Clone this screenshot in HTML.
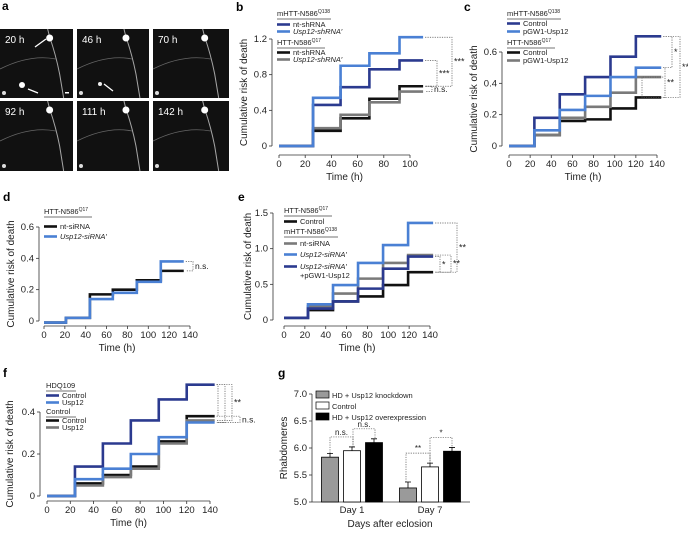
<!DOCTYPE html>
<html><head><meta charset="utf-8"><style>
html,body{margin:0;padding:0;background:#fff;}
svg{display:block;font-family:"Liberation Sans",sans-serif;}
</style></head><body>
<svg id="fig" width="688" height="533" viewBox="0 0 688 533" xmlns="http://www.w3.org/2000/svg">
<g id="pa"></g>
<g id="charts"></g>
</svg>
<script>
// ---- data ----
const bTimes=[0,26,47,69,92,110];
const bDarkBlue=[0,0.46,0.66,0.86,0.96];
const bLightBlue=[0,0.54,0.90,1.04,1.22];
const bBlack=[0,0.17,0.31,0.53,0.67];
const bGray=[0,0.20,0.35,0.49,0.61];
const bXTicks=[0,20,40,60,80,100];
const bYTicks=[0,0.4,0.8,1.2];

const cTimes=[0,24,48,72,96,120,144];
const cDarkBlue=[0,0.18,0.33,0.44,0.57,0.70];
const cLightBlue=[0,0.10,0.23,0.32,0.44,0.50];
const cGray=[0,0.07,0.18,0.25,0.34,0.44];
const cBlack=[0,0.07,0.16,0.17,0.24,0.31];
const cXTicks=[0,20,40,60,80,100,120,140];
const cYTicks=[0,0.2,0.4,0.6];

const dTimes=[0,21,44,66,89,112,134];
const dBlack=[-0.01,0.02,0.17,0.20,0.26,0.32];
const dLightBlue=[-0.01,0.02,0.14,0.18,0.25,0.38];
const dXTicks=[0,20,40,60,80,100,120,140];
const dYTicks=[0,0.2,0.4,0.6];

const eTimes=[0,23,47,71,95,119,143];
const eBlack=[0.03,0.14,0.26,0.33,0.49,0.67];
const eGray=[0.03,0.19,0.37,0.58,0.80,0.91];
const eLightBlue=[0.03,0.22,0.49,0.80,1.05,1.36];
const eDarkBlue=[0.03,0.16,0.26,0.44,0.72,0.89];
const eXTicks=[0,20,40,60,80,100,120,140];
const eYTicks=[0,0.5,1.0,1.5];

const fTimes=[0,24,48,72,96,120,144];
const fDarkBlue=[0,0.14,0.25,0.36,0.46,0.53];
const fLightBlue=[0,0.08,0.13,0.20,0.28,0.35];
const fBlack=[0,0.06,0.10,0.14,0.26,0.38];
const fGray=[0,0.05,0.09,0.13,0.25,0.36];
const fXTicks=[0,20,40,60,80,100,120,140];
const fYTicks=[0,0.2,0.4];

const gGroups=["Day 1","Day 7"];
const gKnockdown=[5.83,5.26];
const gControl=[5.95,5.65];
const gOverexp=[6.10,5.94];
const gErr=[[0.07,0.11],[0.07,0.07],[0.07,0.07]];
const gYTicks=[5.0,5.5,6.0,6.5,7.0];

const DB="#2b3a8f",LB="#4a80d4",BK="#111",GR="#7a7a7a";
const NS="http://www.w3.org/2000/svg";
const root=document.getElementById('charts');
function el(t,a,p){const e=document.createElementNS(NS,t);for(const k in a)e.setAttribute(k,a[k]);(p||root).appendChild(e);return e;}
function txt(s,x,y,a,p){const e=el('text',Object.assign({x:x,y:y,'font-size':9,fill:'#222'},a||{}),p);e.textContent=s;return e;}

// ---- panel a ----
(function(){
 const pa=document.getElementById('pa');
 const cols=[[0,73],[77,149],[153,229]],rows=[[29,98],[101,171]];
 const labs=["20 h","46 h","70 h","92 h","111 h","142 h"];
 let i=0;
 for(const r of rows)for(const c of cols){
  const g=el('g',{},pa);
  
  
  el('rect',{x:c[0],y:r[0],width:c[1]-c[0],height:r[1]-r[0],fill:'#111'},g);
  const cx=c[0]+(c[1]-c[0])*0.68;
  el('path',{d:`M${cx-2} ${r[0]} L${cx} ${r[0]+8} Q${cx+6} ${r[0]+25} ${cx+10} ${r[0]+45} L${cx+14} ${r[1]}`,stroke:'#ccc','stroke-width':1,fill:'none',opacity:0.8},g);
  el('path',{d:`M${c[0]} ${r[0]+40} Q${c[0]+30} ${r[0]+25} ${cx+6} ${r[0]+30}`,stroke:'#666','stroke-width':0.8,fill:'none'},g);
  el('circle',{cx:cx,cy:r[0]+9,r:3.5,fill:'#fff'},g);
  el('circle',{cx:c[0]+4,cy:r[1]-5,r:2,fill:'#ddd'},g);
  txt(labs[i],c[0]+5,r[0]+14,{fill:'#fff','font-size':10},g);
  i++;
 }
 el('circle',{cx:22,cy:85,r:3,fill:'#fff'},pa);
 el('circle',{cx:100,cy:84,r:2,fill:'#eee'},pa);
 el('path',{d:'M35 47 L46 39 M28 89 L38 93 M104 84 L113 91',stroke:'#fff','stroke-width':1.3},pa);
 el('rect',{x:65,y:92,width:4,height:1.5,fill:'#fff'},pa);
 txt("a",2,10,{'font-size':12,'font-weight':'bold',fill:'#000'},pa);
})();

// ---- step chart helper ----
function stepChart(cfg){
 const g=el('g',{});
 
 
 const sx=v=>cfg.x0+(v-cfg.xmin)/(cfg.xmax-cfg.xmin)*(cfg.x1-cfg.x0);
 const sy=v=>cfg.y0+(v-cfg.ymin)/(cfg.ymax-cfg.ymin)*(cfg.y1-cfg.y0);
 const ya=el('line',{x1:cfg.ax,x2:cfg.ax,y1:sy(cfg.yt[0]),y2:sy(cfg.yt[cfg.yt.length-1]),stroke:'#333','stroke-width':0.8},g);
 
 for(const t of cfg.yt){el('line',{x1:cfg.ax-3,x2:cfg.ax,y1:sy(t),y2:sy(t),stroke:'#333','stroke-width':0.8},g);
  const l=txt(String(t===0?0:t.toFixed(cfg.ydec)),cfg.ax-5,sy(t)+3,{'text-anchor':'end','font-size':9.5},g);
  }
 const xa=el('line',{x1:sx(cfg.xt[0]),x2:sx(cfg.xt[cfg.xt.length-1]),y1:cfg.ay,y2:cfg.ay,stroke:'#333','stroke-width':0.8},g);
 
 for(const t of cfg.xt){el('line',{x1:sx(t),x2:sx(t),y1:cfg.ay,y2:cfg.ay+3,stroke:'#333','stroke-width':0.8},g);
  const l=txt(String(t),sx(t),cfg.ay+12,{'text-anchor':'middle','font-size':9.5},g);
  }
 const xt=txt("Time (h)",(sx(cfg.xt[0])+sx(cfg.xt[cfg.xt.length-1]))/2,cfg.ay+25,{'text-anchor':'middle','font-size':10},g);
 
 const yl=txt("Cumulative risk of death",0,0,{'text-anchor':'middle','font-size':10,transform:`translate(${cfg.ylx},${(cfg.y0+cfg.y1)/2}) rotate(-90)`},g);
 
 const pl=txt(cfg.letter,cfg.lx,cfg.ly,{'font-size':12,'font-weight':'bold',fill:'#000'},g);
 
 for(const s of cfg.series){
  let d=`M${sx(cfg.times[0])} ${sy(s.v[0])}`;
  for(let i=0;i<s.v.length;i++){d+=` H${sx(cfg.times[i+1])}`;if(i+1<s.v.length)d+=` V${sy(s.v[i+1])}`;}
  const p=el('path',{d:d,stroke:s.c,'stroke-width':2.6,fill:'none'},g);
  
  
 }
 for(const L of cfg.legend){
  if(L.h){const t=txt(L.h,cfg.lgx,L.y,{'font-size':7.5},g);
   if(L.sup){const ts=el('tspan',{'font-size':5,dy:-3},t);ts.textContent=L.sup;}
   el('line',{x1:cfg.lgx,x2:cfg.lgx+L.w,y1:L.y+3,y2:L.y+3,stroke:'#444','stroke-width':0.7},g);
   }
  else{if(L.c!=='none')el('line',{x1:cfg.lgx,x2:cfg.lgx+13,y1:L.y-2.5,y2:L.y-2.5,stroke:L.c,'stroke-width':2.6},g);
   const t=txt(L.t,cfg.lgx+16,L.y,{'font-size':7.5,'font-style':L.i?'italic':'normal'},g);
   }
 }
 const xe=sx(cfg.times[cfg.times.length-1]);
 for(const b of cfg.sig){
  el('path',{d:`M${xe+2} ${sy(b.a)} H${b.x} V${sy(b.b)} H${xe+2}`,stroke:'#555','stroke-width':0.7,fill:'none','stroke-dasharray':'1.2,1.2'},g);
  if(b.t){const t=txt(b.t,b.x+2,(sy(b.a)+sy(b.b))/2+3,{'font-size':b.t==='n.s.'?8.5:9},g);
  }
 }
 return g;
}

stepChart({name:'panel-b-chart',letter:'b',lx:236,ly:11,times:bTimes,xmin:0,xmax:100,x0:279,x1:410,ymin:0,ymax:1.2,y0:146,y1:39,
 ax:272,ay:155,xt:bXTicks,yt:bYTicks,ydec:1,ylx:247,lgx:277,
 series:[{n:'series-htt-nt-shrna',v:bBlack,c:BK},{n:'series-htt-usp12-shrna',v:bGray,c:GR},{n:'series-mhtt-nt-shrna',v:bDarkBlue,c:DB},{n:'series-mhtt-usp12-shrna',v:bLightBlue,c:LB}],
 legend:[{h:'mHTT-N586',sup:'Q138',w:54,y:16},{t:'nt-shRNA',c:DB,y:27},{t:'Usp12-shRNA\u2032',c:LB,y:34,i:1},{h:'HTT-N586',sup:'Q17',w:48,y:45},{t:'nt-shRNA',c:BK,y:55},{t:'Usp12-shRNA\u2032',c:GR,y:62,i:1}],
 sig:[{a:1.22,b:0.67,x:452,t:'***'},{a:0.96,b:0.67,x:437,t:'***'},{a:0.67,b:0.61,x:432,t:'n.s.'}]});

stepChart({name:'panel-c-chart',letter:'c',lx:464,ly:11,times:cTimes,xmin:0,xmax:140,x0:509,x1:657,ymin:0,ymax:0.6,y0:146,y1:52,
 ax:502,ay:155,xt:cXTicks,yt:cYTicks,ydec:1,ylx:477,lgx:507,
 series:[{n:'series-htt-control',v:cBlack,c:BK},{n:'series-htt-pgw1-usp12',v:cGray,c:GR},{n:'series-mhtt-control',v:cDarkBlue,c:DB},{n:'series-mhtt-pgw1-usp12',v:cLightBlue,c:LB}],
 legend:[{h:'mHTT-N586',sup:'Q138',w:54,y:16},{t:'Control',c:DB,y:26},{t:'pGW1-Usp12',c:LB,y:34},{h:'HTT-N586',sup:'Q17',w:48,y:45},{t:'Control',c:BK,y:55},{t:'pGW1-Usp12',c:GR,y:63}],
 sig:[{a:0.70,b:0.31,x:680,t:'***'},{a:0.70,b:0.50,x:672,t:'*'},{a:0.50,b:0.31,x:665,t:'**'},{a:0.44,b:0.31,x:642,t:''}]});

stepChart({name:'panel-d-chart',letter:'d',lx:3,ly:201,times:dTimes,xmin:0,xmax:140,x0:44,x1:190,ymin:0,ymax:0.6,y0:321,y1:227,
 ax:39,ay:326,xt:dXTicks,yt:dYTicks,ydec:1,ylx:14,lgx:44,
 series:[{n:'series-nt-sirna',v:dBlack,c:BK},{n:'series-usp12-sirna',v:dLightBlue,c:LB}],
 legend:[{h:'HTT-N586',sup:'Q17',w:48,y:214},{t:'nt-siRNA',c:BK,y:229},{t:'Usp12-siRNA\u2032',c:LB,y:239,i:1}],
 sig:[{a:0.38,b:0.32,x:193,t:'n.s.'}]});

stepChart({name:'panel-e-chart',letter:'e',lx:238,ly:201,times:eTimes,xmin:0,xmax:140,x0:284,x1:430,ymin:0,ymax:1.5,y0:320,y1:213,
 ax:273,ay:326,xt:eXTicks,yt:eYTicks,ydec:1,ylx:251,lgx:284,
 series:[{n:'series-htt-control',v:eBlack,c:BK},{n:'series-mhtt-nt-sirna',v:eGray,c:GR},{n:'series-mhtt-usp12-sirna',v:eLightBlue,c:LB},{n:'series-mhtt-usp12-sirna-pgw1',v:eDarkBlue,c:DB}],
 legend:[{h:'HTT-N586',sup:'Q17',w:48,y:213},{t:'Control',c:BK,y:224},{h:'mHTT-N586',sup:'Q138',w:54,y:234},{t:'nt-siRNA',c:GR,y:246},{t:'Usp12-siRNA\u2032',c:LB,y:257,i:1},{t:'Usp12-siRNA\u2032',c:DB,y:269,i:1},{t:'+pGW1-Usp12',c:'none',y:278}],
 sig:[{a:1.36,b:0.67,x:457,t:'**'},{a:0.91,b:0.67,x:451,t:'**'},{a:0.89,b:0.67,x:440,t:'*'}]});

stepChart({name:'panel-f-chart',letter:'f',lx:3,ly:377,times:fTimes,xmin:0,xmax:140,x0:47,x1:210,ymin:0,ymax:0.4,y0:496,y1:412,
 ax:40,ay:501,xt:fXTicks,yt:fYTicks,ydec:1,ylx:13,lgx:46,
 series:[{n:'series-control-control',v:fBlack,c:BK},{n:'series-control-usp12',v:fGray,c:GR},{n:'series-hdq109-control',v:fDarkBlue,c:DB},{n:'series-hdq109-usp12',v:fLightBlue,c:LB}],
 legend:[{h:'HDQ109',w:30,y:388},{t:'Control',c:DB,y:398},{t:'Usp12',c:LB,y:405},{h:'Control',w:30,y:414},{t:'Control',c:BK,y:423},{t:'Usp12',c:GR,y:430}],
 sig:[{a:0.53,b:0.38,x:218,t:''},{a:0.53,b:0.35,x:225,t:''},{a:0.53,b:0.36,x:232,t:'**'},{a:0.38,b:0.35,x:240,t:'n.s.'}]});

// ---- panel g bar chart ----
(function(){
 const g=el('g',{});
 
 
 const y0=502,y1=394,vmin=5.0,vmax=7.0,ax=312;
 const sy=v=>y0+(v-vmin)/(vmax-vmin)*(y1-y0);
 const groupX=[352,430],bw=17,off=[-22,0,22];
 const series=[gKnockdown,gControl,gOverexp],fills=['#9a9a9a','#fff','#000'];
 el('line',{x1:ax,x2:ax,y1:y0,y2:y1,stroke:'#333','stroke-width':0.8},g);
 el('line',{x1:ax,x2:470,y1:y0,y2:y0,stroke:'#333','stroke-width':0.8},g);
 for(const t of gYTicks){el('line',{x1:ax-3,x2:ax,y1:sy(t),y2:sy(t),stroke:'#333','stroke-width':0.8},g);
  const l=txt(t.toFixed(1),ax-5,sy(t)+3,{'text-anchor':'end','font-size':9.5},g);
  }
 gGroups.forEach((name,gi)=>{
  series.forEach((s,si)=>{
   const x=groupX[gi]+off[si]-bw/2;
   const r=el('rect',{x:x,y:sy(s[gi]),width:bw,height:y0-sy(s[gi]),fill:fills[si],stroke:'#000','stroke-width':0.8},g);
   
   
   const e=gErr[si][gi],cx=x+bw/2;
   el('path',{d:`M${cx} ${sy(s[gi])} V${sy(s[gi]+e)} M${cx-3} ${sy(s[gi]+e)} H${cx+3}`,stroke:'#000','stroke-width':0.8,fill:'none'},g);
  });
  const l=txt(name,groupX[gi],513,{'text-anchor':'middle','font-size':9.5},g);
  
 });
 const xt=txt("Days after eclosion",390,527,{'text-anchor':'middle','font-size':10},g);
 
 const yt=txt("Rhabdomeres",0,0,{'text-anchor':'middle','font-size':10,transform:`translate(287,${(y0+y1)/2}) rotate(-90)`},g);
 
 const pl=txt("g",278,377,{'font-size':12,'font-weight':'bold',fill:'#000'},g);
 
 const leg=[['HD + Usp12 knockdown','#9a9a9a',398],['Control','#fff',409],['HD + Usp12 overexpression','#000',420]];
 for(const L of leg){el('rect',{x:316,y:L[2]-7,width:13,height:7,fill:L[1],stroke:'#000','stroke-width':0.7},g);
  const t=txt(L[0],332,L[2],{'font-size':7.5},g);}
 const br=[[330,353,sy(5.91),sy(6.02),'n.s.'],[353,375,sy(6.02),sy(6.17),'n.s.'],[406,430,sy(5.37),sy(5.72),'**'],[430,452,sy(5.72),sy(6.01),'*']];
 for(const b of br){const top=Math.min(b[2],b[3])-10;
  el('path',{d:`M${b[0]} ${b[2]} V${top} H${b[1]} V${b[3]}`,stroke:'#555','stroke-width':0.7,fill:'none','stroke-dasharray':'1.2,1.2'},g);
  const t=txt(b[4],(b[0]+b[1])/2,top-2,{'text-anchor':'middle','font-size':8},g);
  }
})();
</script>
</body></html>
